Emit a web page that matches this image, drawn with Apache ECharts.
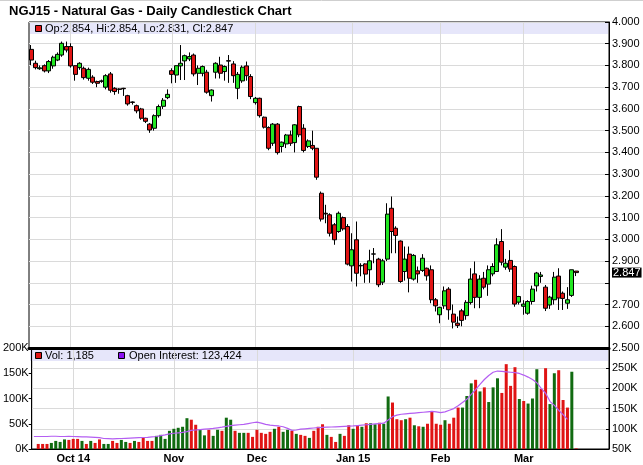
<!DOCTYPE html>
<html><head><meta charset="utf-8">
<script src="https://cdn.jsdelivr.net/npm/echarts@6/dist/echarts.min.js"></script>
<style>html,body{margin:0;padding:0;background:#fff}#c{width:643px;height:465px}</style>
</head><body><div id="c"></div>
<script>
// ---- categories (trading days) ----
const sepDays = [18,19,22,23,24,25,26,29,30];
const octDays = [1,2,3,6,7,8,9,10,13,14,15,16,17,20,21,22,23,24,27,28,29,30,31];
const novDays = [3,4,5,6,7,10,11,12,13,14,17,18,19,20,21,24,25,26,28];
const decDays = [1,2,3,4,5,8,9,10,11,12,15,16,17,18,19,22,23,24,26,29,30,31];
const janDays = [2,5,6,7,8,9,12,13,14,15,16,20,21,22,23,26,27,28,29,30];
const febDays = [2,3,4,5,6,9,10,11,12,13,17,18,19,20,23,24,25,26,27];
const marDays = [2,3,4,5,6,9,10,11,12,13,16,17,18,19,20,23,24,25,26,27];
const monthNames = ['Jan','Feb','Mar','Apr','May','Jun','Jul','Aug','Sep','Oct','Nov','Dec'];

// ---- prices ----
const openP = [3.874,3.810,3.785,3.799,3.775,3.798,3.825,3.848,3.887,3.887,
3.799,3.790,3.787,3.741,3.746,3.726,3.729,3.700,3.761,3.695,
3.692,3.695,3.661,3.632,3.615,3.600,3.557,3.530,3.511,3.569,
3.612,3.652,3.776,3.756,3.798,3.821,3.830,3.848,3.764,3.764,
3.769,3.661,3.769,3.802,3.772,3.822,3.807,3.695,3.729,3.798,
3.749,3.629,3.649,3.562,3.514,3.442,3.530,3.427,3.439,3.480,
3.445,3.611,3.511,3.427,3.432,3.419,3.212,3.120,3.113,3.067,
3.036,3.100,3.059,2.878,2.998,2.880,2.887,2.860,2.933,2.909,
2.803,2.909,3.143,3.051,2.992,2.852,2.932,2.817,2.855,2.857,
2.867,2.860,2.722,2.653,2.694,2.771,2.656,2.614,2.671,2.649,
2.709,2.841,2.733,2.821,2.794,2.841,2.852,2.990,2.872,2.903,
2.875,2.711,2.692,2.660,2.714,2.786,2.829,2.780,2.698,2.722,
2.831,2.752,2.706,2.742,2.854];
const highP = [3.894,3.822,3.800,3.805,3.825,3.845,3.860,3.910,3.910,3.902,
3.800,3.815,3.795,3.790,3.755,3.730,3.735,3.760,3.770,3.700,
3.695,3.697,3.665,3.635,3.620,3.605,3.560,3.535,3.575,3.620,
3.650,3.690,3.787,3.800,3.894,3.850,3.860,3.855,3.800,3.800,
3.780,3.690,3.815,3.840,3.800,3.848,3.820,3.770,3.800,3.818,
3.760,3.655,3.652,3.565,3.520,3.535,3.535,3.450,3.485,3.500,
3.530,3.615,3.530,3.460,3.500,3.420,3.220,3.159,3.120,3.075,
3.128,3.105,3.070,3.028,3.082,2.890,2.890,2.952,2.960,2.915,
2.910,3.166,3.197,3.060,2.995,2.967,2.967,2.932,2.875,2.932,
2.870,2.880,2.730,2.690,2.783,2.780,2.700,2.645,2.680,2.720,
2.867,2.898,2.835,2.850,2.880,2.890,3.005,3.047,2.910,2.950,
2.880,2.740,2.720,2.720,2.787,2.850,2.850,2.790,2.740,2.850,
2.867,2.760,2.780,2.860,2.854];
const lowP = [3.802,3.782,3.780,3.768,3.765,3.785,3.820,3.840,3.860,3.790,
3.730,3.780,3.735,3.730,3.715,3.700,3.720,3.690,3.675,3.665,
3.670,3.660,3.615,3.620,3.580,3.550,3.535,3.490,3.500,3.560,
3.600,3.645,3.718,3.720,3.733,3.733,3.820,3.750,3.710,3.750,
3.670,3.634,3.740,3.740,3.730,3.720,3.720,3.645,3.720,3.730,
3.645,3.620,3.560,3.510,3.410,3.430,3.390,3.400,3.420,3.430,
3.400,3.470,3.400,3.420,3.410,3.274,3.082,3.074,3.013,2.975,
3.030,3.040,2.880,2.806,2.783,2.830,2.800,2.800,2.890,2.780,
2.790,2.900,2.936,2.936,2.800,2.810,2.756,2.810,2.800,2.850,
2.810,2.706,2.668,2.614,2.680,2.630,2.590,2.592,2.600,2.630,
2.700,2.683,2.683,2.770,2.740,2.830,2.850,2.880,2.860,2.850,
2.690,2.700,2.653,2.653,2.700,2.760,2.800,2.670,2.680,2.700,
2.675,2.675,2.680,2.735,2.831];
const closeP = [3.825,3.790,3.789,3.775,3.818,3.838,3.851,3.902,3.871,3.798,
3.759,3.810,3.744,3.782,3.723,3.718,3.727,3.753,3.686,3.680,
3.690,3.693,3.623,3.630,3.591,3.557,3.543,3.503,3.569,3.611,
3.640,3.667,3.759,3.799,3.810,3.845,3.841,3.761,3.787,3.795,
3.677,3.687,3.810,3.764,3.795,3.820,3.753,3.759,3.792,3.753,
3.657,3.649,3.569,3.516,3.419,3.530,3.399,3.447,3.480,3.442,
3.527,3.481,3.409,3.453,3.419,3.286,3.093,3.117,3.028,2.998,
3.120,3.048,2.886,2.952,2.844,2.878,2.840,2.901,2.932,2.791,
2.901,3.116,3.036,3.018,2.806,2.909,2.821,2.926,2.841,2.913,
2.832,2.722,2.694,2.687,2.763,2.676,2.619,2.604,2.627,2.710,
2.817,2.733,2.817,2.780,2.860,2.875,2.975,2.895,2.890,2.863,
2.702,2.737,2.702,2.714,2.771,2.845,2.836,2.683,2.734,2.826,
2.730,2.728,2.722,2.860,2.847];

// ---- volume (thousands) and open interest (thousands) ----
const volumeK = [null,10,10,10,12,16,14,19,18,20,
20,16,10,16,12,19,10,10,16,12,
18,14,12,16,14,22,16,16,26,28,
20,36,40,42,44,61,58,48,38,27,
38,26,38,36,62,58,36,32,32,32,
24,38,32,30,34,40,44,34,38,36,
30,28,26,22,36,44,49,28,24,14,
30,26,47,40,47,44,51,51,49,52,
50,104,92,59,57,59,62,47,45,44,
50,74,50,48,57,50,62,82,82,105,
130,137,114,122,93,122,140,111,168,125,
162,99,95,90,100,158,119,160,89,150,
156,97,82,153,1.185];
const openInterestK = [81,81,81,81,81.5,81.5,81,81,81.5,
81,80.5,80,80,79.5,79,78,
76,75.5,75,75.5,76,76.5,77,77.5,
78,78.5,79,80,81,83,85,87.5,
89,90,91,93,96,97,98,99,
100,101,102.5,104,106,108,109,110,
111,113,115,116.5,114,111,109,108,
107,105,101,96,97,99,100,101,
102,103,103.5,104,104.5,105,105.5,106,106.5,
107,108,109,110,111,112,113,114,
122,130,134,136,137,138,139,140,141,142,
143,142,140,142,146,150,157,165,173,185,
197,210,222,232,240,243,242,241,240,239,
237,233,228,222,214,200,188,168,158,146,135,123.424];

// ---- axis scales ----
const priceMin = 2.5, priceMax = 4.0, priceStep = 0.1;
const volMin = 0, volMax = 200000, volStep = 50000;
const oiMin = 50000, oiMax = 300000, oiStep = 50000;

const FONT = '"Liberation Sans", Arial, Helvetica, sans-serif';
const UP = '#22e622', DOWN = '#e01414', VOL_UP = '#116b11', VOL_DOWN = '#e01414', OI_COLOR = '#b45ef2';

const monthBlocks = [[2014,9,sepDays],[2014,10,octDays],[2014,11,novDays],[2014,12,decDays],[2015,1,janDays],[2015,2,febDays],[2015,3,marDays]];
const categories = [];
monthBlocks.forEach(([y,m,days]) => days.forEach(d => categories.push(y + '-' + String(m).padStart(2,'0') + '-' + String(d).padStart(2,'0'))));
const isMonthStart = categories.map((c,i) => i > 0 && c.slice(0,7) !== categories[i-1].slice(0,7));
const firstLabelIdx = isMonthStart.indexOf(true);
function monthLabel(i){
  const c = categories[i]; const y = +c.slice(0,4), m = +c.slice(5,7);
  let s = monthNames[m-1];
  if (m === 1 || i === firstLabelIdx) s += ' ' + String(y).slice(2);
  return s;
}

const candleData = openP.map((o,i) => [o, closeP[i], lowP[i], highP[i]]);
const volData = volumeK.map((v,i) => v == null ? null : ({value: v*1000, itemStyle: {color: (i > 0 && closeP[i] >= closeP[i-1]) ? VOL_UP : VOL_DOWN}}));
const oiData = openInterestK.map(v => v*1000);
const n = closeP.length - 1;
const lastClose = closeP[n];
const fmtInt = v => Math.round(v).toLocaleString('en-US');

const chart = echarts.init(document.getElementById('c'));
const gridLine = {color:'#dadada', width:1};
chart.setOption({
  animation: false,
  backgroundColor: '#fff',
  textStyle: {fontFamily: FONT},
  title: {text: 'NGJ15 - Natural Gas - Daily Candlestick Chart', left: 9, top: 5, padding: 0,
    textStyle: {fontSize: 13, fontWeight: 'bold', color: '#000', fontFamily: FONT}},
  grid: [
    {left: 29, right: 34, top: 22, height: 326, show: true, borderColor: '#000', borderWidth: 1, backgroundColor: 'transparent'},
    {left: 29, right: 34, top: 348, height: 101, show: true, borderColor: '#000', borderWidth: 1, backgroundColor: 'transparent'}
  ],
  xAxis: [
    {type: 'category', gridIndex: 0, data: categories, boundaryGap: true,
     axisLine: {show: true, lineStyle: {color: '#000', width: 3}}, axisTick: {show: false}, axisLabel: {show: false},
     splitLine: {show: true, interval: (i) => isMonthStart[i], alignWithLabel: true, lineStyle: gridLine}},
    {type: 'category', gridIndex: 1, data: categories, boundaryGap: true,
     axisLine: {show: true, lineStyle: {color: '#000', width: 1}}, axisTick: {show: false},
     axisLabel: {interval: (i) => isMonthStart[i], formatter: (v, i) => monthLabel(i), fontWeight: 'bold', fontSize: 11, color: '#000', margin: 4, fontFamily: FONT},
     splitLine: {show: true, interval: (i) => isMonthStart[i], alignWithLabel: true, lineStyle: gridLine}}
  ],
  yAxis: [
    {type: 'value', gridIndex: 0, position: 'right', min: priceMin, max: priceMax, interval: priceStep,
     axisLine: {show: true, lineStyle: {color: '#000'}}, axisTick: {show: true, inside: true, length: 4, lineStyle: {color: '#000'}},
     axisLabel: {margin: 3, fontSize: 11, color: '#000', fontFamily: FONT, hideOverlap: false,
       formatter: v => Math.abs(v - lastClose) < 0.05 ? '' : v.toFixed(3)},
     splitLine: {show: true, lineStyle: gridLine}},
    {type: 'value', gridIndex: 1, position: 'left', min: volMin, max: volMax, interval: volStep,
     axisLine: {show: true, lineStyle: {color: '#000'}}, axisTick: {show: true, length: 3, lineStyle: {color: '#000'}},
     axisLabel: {margin: 3, fontSize: 11, color: '#000', fontFamily: FONT, formatter: v => (v/1000) + 'K'},
     splitLine: {show: false}},
    {type: 'value', gridIndex: 1, position: 'right', min: oiMin, max: oiMax, interval: oiStep,
     axisLine: {show: true, lineStyle: {color: '#000'}}, axisTick: {show: true, inside: true, length: 3, lineStyle: {color: '#000'}},
     axisLabel: {margin: 3, fontSize: 11, color: '#000', fontFamily: FONT, showMaxLabel: false, formatter: v => (v/1000) + 'K'},
     splitLine: {show: true, lineStyle: gridLine}}
  ],
  series: [
    {type: 'candlestick', xAxisIndex: 0, yAxisIndex: 0, data: candleData, barWidth: 4.5,
     itemStyle: {color: UP, color0: DOWN, borderColor: '#000', borderColor0: '#000', borderColorDoji: '#000', borderWidth: 1},
     markLine: {silent: true, symbol: ['none','none'], precision: 3, lineStyle: {color: 'rgba(0,0,0,0)', width: 0},
       data: [{yAxis: lastClose}],
       label: {show: true, position: 'end', distance: 3, formatter: () => lastClose.toFixed(3),
         backgroundColor: '#000', color: '#fff', fontSize: 11, lineHeight: 10, fontFamily: FONT, padding: [0,1,0,1]}}},
    {type: 'bar', xAxisIndex: 1, yAxisIndex: 1, data: volData, barWidth: 3},
    {type: 'line', xAxisIndex: 1, yAxisIndex: 2, data: oiData, showSymbol: false, symbol: 'none',
     lineStyle: {color: OI_COLOR, width: 1.2}, z: 3}
  ],
  graphic: [
    {type: 'line', shape: {x1: 0, y1: 0.5, x2: 643, y2: 0.5}, style: {stroke: '#cfcfcf', lineWidth: 1}},
    {type: 'rect', shape: {x: 30, y: 23, width: 578, height: 11}, style: {fill: 'rgba(213,213,247,0.6)'}},
    {type: 'rect', shape: {x: 35.5, y: 25.5, width: 6, height: 6}, style: {fill: DOWN, stroke: '#000', lineWidth: 1}},
    {type: 'text', x: 45, y: 29, style: {text: 'Op:' + openP[n].toFixed(3) + ', Hi:' + highP[n].toFixed(3) + ', Lo:' + lowP[n].toFixed(3) + ', Cl:' + closeP[n].toFixed(3),
      font: '11px ' + FONT, fill: '#000', verticalAlign: 'middle'}},
    {type: 'rect', shape: {x: 30, y: 350, width: 578, height: 11}, style: {fill: 'rgba(213,213,247,0.6)'}},
    {type: 'rect', shape: {x: 35.5, y: 352.5, width: 6, height: 6}, style: {fill: DOWN, stroke: '#000', lineWidth: 1}},
    {type: 'text', x: 45, y: 356, style: {text: 'Vol: ' + fmtInt(volumeK[n]*1000), font: '11px ' + FONT, fill: '#000', verticalAlign: 'middle'}},
    {type: 'rect', shape: {x: 118.5, y: 352.5, width: 6, height: 6}, style: {fill: '#8a10f0', stroke: '#000', lineWidth: 1}},
    {type: 'text', x: 129, y: 356, style: {text: 'Open Interest: ' + fmtInt(openInterestK[openInterestK.length-1]*1000), font: '11px ' + FONT, fill: '#000', verticalAlign: 'middle'}}
  ]
});
</script></body></html>
